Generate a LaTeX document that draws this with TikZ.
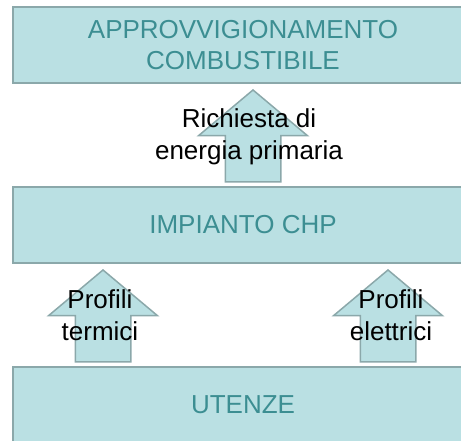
\documentclass[tikz,border=0pt]{standalone}
\usepackage{fontspec}
\setmainfont{Liberation Sans}
\usetikzlibrary{shapes.arrows}
\definecolor{boxfill}{HTML}{BAE0E3}
\definecolor{boxline}{HTML}{8BA8AA}
\definecolor{boxtext}{HTML}{3C8E92}
\tikzset{layer/.style={rectangle, draw=boxline, fill=boxfill, line width=2pt,
		minimum width=460pt, minimum height=76pt, text=boxtext, align=center,
		font=\fontsize{26}{31}\selectfont},
	blockarrow/.style={single arrow, draw=boxline, fill=boxfill, line width=1.5pt,
		rotate=90, anchor=tip, inner xsep=0pt, inner ysep=27pt,
		single arrow head extend=26.5pt, single arrow tip angle=100, minimum height=92pt},
	lbl/.style={align=center, inner sep=0pt, font=\fontsize{26}{32}\selectfont}}

\begin{document}
\begin{tikzpicture}
  [x=1pt,y=-1pt]
  \useasboundingbox (0,0) rectangle (461,441);
  \clip (0,0) rectangle (461,441);
  \node[layer] (fuel) at (243,45) {APPROVVIGIONAMENTO\\COMBUSTIBILE};
  \node[layer] (chp) at (243,225) {IMPIANTO CHP};
  \node[layer] (users) at (243,405) {UTENZE};
  \node[blockarrow] (primary) at (253,89) {};
  \node[lbl] (primarytxt) at (249,137) {Richiesta di\\energia primaria};
  \foreach \name/\ax/\tx/\txt in {thermal/103/100/{Profili\\termici},electric/388/391/{Profili\\elettrici}}
  {
    \node[blockarrow] (\name) at (\ax,269) {};
    \node[lbl] (\name txt) at (\tx,315) {\txt};
  }
\end{tikzpicture}
\end{document}
